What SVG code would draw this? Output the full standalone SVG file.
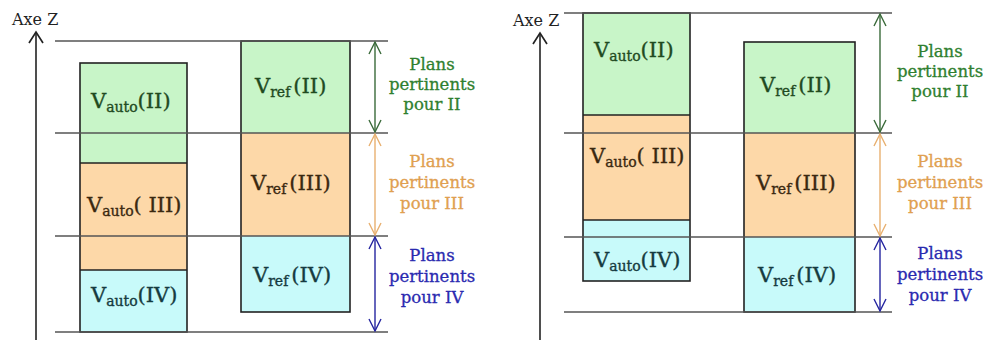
<svg xmlns="http://www.w3.org/2000/svg" width="983" height="340" viewBox="0 0 983 340">
<style>
text{font-family:"DejaVu Serif","Liberation Serif",serif}
.bx{font-size:21px;stroke-width:0.35}
.sub{font-size:14px}
.lbl{font-size:16.5px;text-anchor:middle;stroke-width:0.3}
.g{fill:#c8f5c8}.o{fill:#fdd8a8}.c{fill:#c8fafa}
.frame{fill:none;stroke:#222;stroke-width:1.6}
.sep{stroke:#222;stroke-width:1.6}
.hl{stroke:#555;stroke-width:1.6}
.ax{stroke:#222;stroke-width:1.6;fill:none}
.tg{fill:#1f4a1f;stroke:#1f4a1f}.to{fill:#3a2810;stroke:#3a2810}.tc{fill:#153a40;stroke:#153a40}
.lg{fill:#2f7f2f;stroke:#2f7f2f}.lo{fill:#e0a050;stroke:#e0a050}.lb{fill:#2a2ab0;stroke:#2a2ab0}
</style>
<defs>
<marker id="axh" markerWidth="16" markerHeight="12" refX="0" refY="0" orient="0" markerUnits="userSpaceOnUse" overflow="visible">
<path d="M-7,11 L0,0 L7,11" fill="none" stroke="#222" stroke-width="1.7"/>
</marker>
<marker id="mg" markerWidth="10" markerHeight="10" refX="0" refY="0" orient="auto-start-reverse" markerUnits="userSpaceOnUse" overflow="visible">
<path d="M-12,-6 L0,0 L-12,6" fill="none" stroke="#3a6a3a" stroke-width="1.4"/>
</marker>
<marker id="mo" markerWidth="10" markerHeight="10" refX="0" refY="0" orient="auto-start-reverse" markerUnits="userSpaceOnUse" overflow="visible">
<path d="M-12,-6 L0,0 L-12,6" fill="none" stroke="#e8b070" stroke-width="1.4"/>
</marker>
<marker id="mb" markerWidth="10" markerHeight="10" refX="0" refY="0" orient="auto-start-reverse" markerUnits="userSpaceOnUse" overflow="visible">
<path d="M-12,-6 L0,0 L-12,6" fill="none" stroke="#2525a0" stroke-width="1.4"/>
</marker>
</defs>
<rect width="983" height="340" fill="#fff"/>

<!-- Left panel -->
<g id="left-vauto">
<rect class="g" x="80" y="63" width="107" height="100"/>
<rect class="o" x="80" y="163" width="107" height="107"/>
<rect class="c" x="80" y="270" width="107" height="62"/>
<line class="sep" x1="80" y1="163" x2="187" y2="163"/>
<line class="sep" x1="80" y1="270" x2="187" y2="270"/>
<rect class="frame" x="80" y="63" width="107" height="269"/>
<text class="bx tg" x="91" y="108">V<tspan class="sub" dy="4">auto</tspan><tspan dy="-4">(II)</tspan></text>
<text class="bx to" x="87" y="212">V<tspan class="sub" dy="4">auto</tspan><tspan dy="-4">( III)</tspan></text>
<text class="bx tc" x="91" y="302">V<tspan class="sub" dy="4">auto</tspan><tspan dy="-4">(IV)</tspan></text>
</g>
<g id="left-vref">
<rect class="g" x="241" y="41" width="109" height="92"/>
<rect class="o" x="241" y="133" width="109" height="103"/>
<rect class="c" x="241" y="236" width="109" height="76"/>
<rect class="frame" x="241" y="41" width="109" height="271"/>
<text class="bx tg" x="255" y="93">V<tspan class="sub" dy="4">ref</tspan><tspan dx="3" dy="-4">(II)</tspan></text>
<text class="bx to" x="251" y="190">V<tspan class="sub" dy="4">ref</tspan><tspan dx="3" dy="-4">(III)</tspan></text>
<text class="bx tc" x="253" y="282">V<tspan class="sub" dy="4">ref</tspan><tspan dx="3" dy="-4">(IV)</tspan></text>
</g>

<!-- Right panel -->
<g id="right-vauto">
<rect class="g" x="583" y="13" width="107" height="102"/>
<rect class="o" x="583" y="115" width="107" height="105"/>
<rect class="c" x="583" y="220" width="107" height="61"/>
<line class="sep" x1="583" y1="115" x2="690" y2="115"/>
<line class="sep" x1="583" y1="220" x2="690" y2="220"/>
<rect class="frame" x="583" y="13" width="107" height="268"/>
<text class="bx tg" x="594" y="57">V<tspan class="sub" dy="4">auto</tspan><tspan dy="-4">(II)</tspan></text>
<text class="bx to" x="590" y="163">V<tspan class="sub" dy="4">auto</tspan><tspan dy="-4">( III)</tspan></text>
<text class="bx tc" x="594" y="267">V<tspan class="sub" dy="4">auto</tspan><tspan dy="-4">(IV)</tspan></text>
</g>
<g id="right-vref">
<rect class="g" x="744" y="42" width="111" height="91"/>
<rect class="o" x="744" y="133" width="111" height="104"/>
<rect class="c" x="744" y="237" width="111" height="75"/>
<rect class="frame" x="744" y="42" width="111" height="270"/>
<text class="bx tg" x="760" y="92">V<tspan class="sub" dy="4">ref</tspan><tspan dx="3" dy="-4">(II)</tspan></text>
<text class="bx to" x="756" y="190">V<tspan class="sub" dy="4">ref</tspan><tspan dx="3" dy="-4">(III)</tspan></text>
<text class="bx tc" x="758" y="282">V<tspan class="sub" dy="4">ref</tspan><tspan dx="3" dy="-4">(IV)</tspan></text>
</g>

<g id="connectors">
<line class="hl" x1="55" y1="41" x2="388" y2="41"/>
<line class="hl" x1="55" y1="133" x2="388" y2="133"/>
<line class="hl" x1="55" y1="236" x2="388" y2="236"/>
<line class="hl" x1="55" y1="332" x2="388" y2="332"/>
<line class="hl" x1="564" y1="13" x2="892" y2="13"/>
<line class="hl" x1="564" y1="133" x2="892" y2="133"/>
<line class="hl" x1="564" y1="237" x2="892" y2="237"/>
<line class="hl" x1="564" y1="312" x2="892" y2="312"/>
<line class="ax" x1="36" y1="340" x2="36" y2="32" marker-end="url(#axh)"/>
<line class="ax" x1="540" y1="340" x2="540" y2="33" marker-end="url(#axh)"/>
<line x1="375" y1="42" x2="375" y2="132" stroke="#3a6a3a" stroke-width="1.4" marker-start="url(#mg)" marker-end="url(#mg)"/>
<line x1="375" y1="134" x2="375" y2="235" stroke="#e8b070" stroke-width="1.4" marker-start="url(#mo)" marker-end="url(#mo)"/>
<line x1="375" y1="237" x2="375" y2="331" stroke="#2525a0" stroke-width="1.4" marker-start="url(#mb)" marker-end="url(#mb)"/>
<line x1="880" y1="14" x2="880" y2="132" stroke="#3a6a3a" stroke-width="1.4" marker-start="url(#mg)" marker-end="url(#mg)"/>
<line x1="880" y1="134" x2="880" y2="236" stroke="#e8b070" stroke-width="1.4" marker-start="url(#mo)" marker-end="url(#mo)"/>
<line x1="880" y1="238" x2="880" y2="311" stroke="#2525a0" stroke-width="1.4" marker-start="url(#mb)" marker-end="url(#mb)"/>
</g>

<g id="labels">
<text x="12" y="25" font-size="16" fill="#222">Axe Z</text>
<text x="513" y="26" font-size="16" fill="#222">Axe Z</text>
<text class="lbl lg"><tspan x="432" y="70">Plans</tspan><tspan x="432" y="90">pertinents</tspan><tspan x="432" y="110">pour II</tspan></text>
<text class="lbl lo"><tspan x="432" y="167">Plans</tspan><tspan x="432" y="188">pertinents</tspan><tspan x="432" y="209">pour III</tspan></text>
<text class="lbl lb"><tspan x="432" y="261">Plans</tspan><tspan x="432" y="282">pertinents</tspan><tspan x="432" y="303">pour IV</tspan></text>
<text class="lbl lg"><tspan x="940" y="57">Plans</tspan><tspan x="940" y="77">pertinents</tspan><tspan x="940" y="97">pour II</tspan></text>
<text class="lbl lo"><tspan x="940" y="167">Plans</tspan><tspan x="940" y="188">pertinents</tspan><tspan x="940" y="209">pour III</tspan></text>
<text class="lbl lb"><tspan x="940" y="259">Plans</tspan><tspan x="940" y="280">pertinents</tspan><tspan x="940" y="301">pour IV</tspan></text>
</g>
</svg>
